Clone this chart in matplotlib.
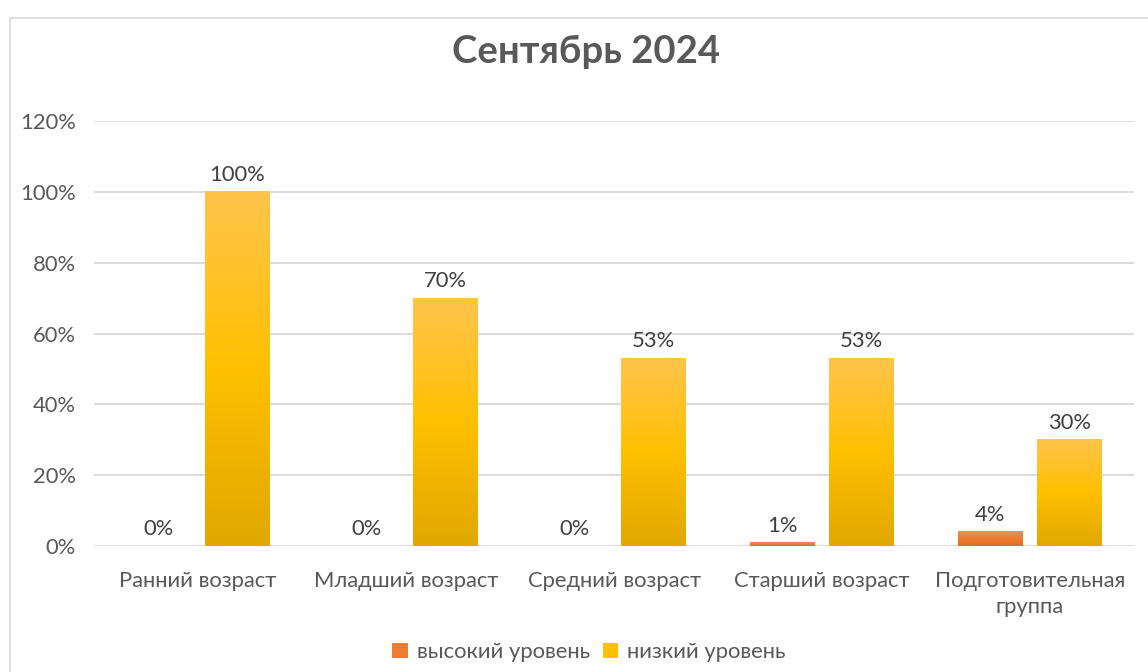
import matplotlib
matplotlib.use("Agg")
import matplotlib.pyplot as plt
import numpy as np
from matplotlib.colors import LinearSegmentedColormap
from matplotlib.patches import Rectangle, Patch

plt.rcParams['font.family'] = ['Lato', 'DejaVu Sans']

title = "Сентябрь 2024"
categories = ["Ранний возраст", "Младший возраст", "Средний возраст",
              "Старший возраст", "Подготовительная\nгруппа"]
series_names = ["высокий уровень", "низкий уровень"]
high = [0, 0, 0, 1, 4]
low = [100, 70, 53, 53, 30]
yticks = [0, 20, 40, 60, 80, 100, 120]

fig = plt.figure(figsize=(11.48, 6.72), dpi=100)
ax = fig.add_axes([94/1148, 1-546/672, (1134-94)/1148, (546-121)/672])

# chart border
fig.patches.append(Rectangle((10/1148, -0.05), 1.1, 1 - 18/672 + 0.05,
                             transform=fig.transFigure, fill=False,
                             edgecolor="#D9D9D9", linewidth=1.2))

x = np.arange(len(categories))
w = 0.3125
off = 0.19

cmap_low = LinearSegmentedColormap.from_list("low", ["#E0A800", "#FFC000", "#FFC44D"])
cmap_high = LinearSegmentedColormap.from_list("high", ["#E56B22", "#ED7D31", "#F28E55"])
grad = np.linspace(0, 1, 256).reshape(-1, 1)

ax.set_xlim(-0.5, len(categories) - 0.5)
ax.set_ylim(0, 120)

def gbar(xc, h, cmap):
    if h <= 0:
        return
    ax.imshow(grad, cmap=cmap, origin="lower", aspect="auto",
              extent=(xc - w/2, xc + w/2, 0, h), zorder=3)

FS = 15.8
for i in range(len(categories)):
    gbar(x[i] - off, high[i], cmap_high)
    gbar(x[i] + off, low[i], cmap_low)
    ax.annotate(f"{high[i]}%", (x[i] - off, high[i]), xytext=(0, 5),
                textcoords="offset points", ha="center", va="bottom",
                fontsize=FS, color="#404040")
    ax.annotate(f"{low[i]}%", (x[i] + off, low[i]), xytext=(0, 5),
                textcoords="offset points", ha="center", va="bottom",
                fontsize=FS, color="#404040")

ax.set_xlim(-0.5, len(categories) - 0.5)
ax.set_ylim(0, 120)
ax.set_yticks(yticks)
ax.set_yticklabels([f"{t}%" for t in yticks])
ax.set_xticks(x)
ax.set_xticklabels(categories, linespacing=1.35)
ax.tick_params(axis="both", length=0, labelsize=FS, colors="#595959")
ax.tick_params(axis="y", pad=13)
ax.tick_params(axis="x", pad=18)
ax.grid(axis="y", color="#D9D9D9", linewidth=1.3, zorder=0)
ax.set_axisbelow(True)
for s in ax.spines.values():
    s.set_visible(False)

fig.text(586.5/1148, 1 - 52/672, title, ha="center", va="center", fontsize=27.5,
         fontweight="bold", color="#595959")

handles = [Patch(facecolor="#ED7D31"), Patch(facecolor="#FFC000")]
fig.legend(handles, series_names, loc="center", bbox_to_anchor=(589/1148, 1 - 652/672),
           ncol=2, frameon=False, fontsize=FS, handlelength=0.7, handleheight=0.7,
           handletextpad=0.4, columnspacing=0.6, labelcolor="#595959")

fig.savefig("out.png", dpi=100)
